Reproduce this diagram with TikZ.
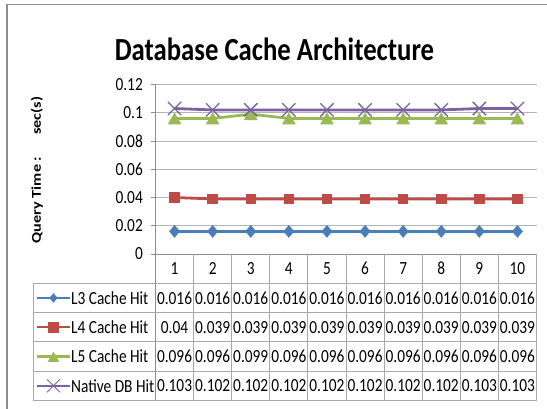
\documentclass[tikz,border=0pt]{standalone}
\usepackage{fontspec}
\setmainfont{Carlito}[FakeStretch=0.83]
\newfontfamily\plainfont{Carlito}
\usetikzlibrary{shapes.geometric,shapes.misc}
\definecolor{l3blue}{HTML}{4A7EBB}
\definecolor{l4red}{HTML}{BE4B48}
\definecolor{l5green}{HTML}{98B954}
\definecolor{nativepurple}{HTML}{7D60A0}
\definecolor{gridgray}{HTML}{B4B4B4}
\definecolor{cellgray}{HTML}{A8A8A8}
\definecolor{framegray}{HTML}{8C8C8C}
\tikzset{
	frame/.style={draw=framegray, line width=1.2pt},
	grid line/.style={draw=gridgray, line width=0.9pt},
	cell line/.style={draw=cellgray, line width=0.9pt},
	axis line/.style={draw=framegray, line width=0.9pt},
	series/.style={line width=2.8pt},
	key line/.style={line width=2.2pt},
	chart title/.style={inner sep=0pt, font=\fontsize{32.2}{36}\selectfont\bfseries},
	axis title/.style={inner sep=0pt, rotate=90, font=\plainfont\fontsize{16.2}{18}\selectfont\bfseries},
	cell text/.style={inner sep=0pt, font=\fontsize{18.5}{21}\selectfont},
	l3mark/.style={diamond, fill=l3blue, inner sep=0pt, minimum width=11pt, minimum height=13pt},
	l4mark/.style={rectangle, fill=l4red, inner sep=0pt, minimum size=10.5pt},
	l5mark/.style={regular polygon, regular polygon sides=3, fill=l5green, inner sep=0pt, minimum size=16pt, yshift=-2pt},
	nativemark/.style={cross out, draw=nativepurple, line width=1.3pt, inner sep=0pt, minimum size=12pt}
}
\begin{document}
\begin{tikzpicture}[x=1pt,y=-1pt]
	\useasboundingbox (0,0) rectangle (547,409);
	\draw[frame] (7,4.5) rectangle (560,420);
	\node[chart title] (title) at (274.5,49.5) {Database Cache Architecture};
	\node[axis title] (ytitle) at (37,170) {\scalebox{1}[0.83]{Query Time :\hspace{22pt}sec(s)}};
	\foreach \v/\lab [count=\k] in {0/0,0.02/0.02,0.04/0.04,0.06/0.06,0.08/0.08,0.1/0.1,0.12/0.12} {
		\ifnum\k>1
			\draw[grid line] (155.5,{254-1412.5*\v}) -- (536.5,{254-1412.5*\v});
		\fi
		\draw[axis line] (151,{254-1412.5*\v}) -- (155.5,{254-1412.5*\v});
		\node[cell text, anchor=east] (tick\k) at (143,{254-1412.5*\v}) {\lab};
	}
	\draw[axis line] (155.5,84.5) -- (155.5,400.5);
	\draw[axis line] (155.5,254) -- (536.5,254);
	\foreach \y in {283.3,312.6,341.9,371.2,400.5}
		\draw[cell line] (33,\y) -- (536.5,\y);
	\draw[cell line] (33,283.3) -- (33,400.5);
	\foreach \k in {1,...,10}
		\draw[cell line] ({155.5+38.1*\k},254) -- ({155.5+38.1*\k},400.5);
	\foreach \k in {1,...,10}
		\node[cell text] (head\k) at ({155.5+38.1*(\k-0.5)},268.7) {\k};
	% legend keys
	\draw[key line, l3blue] (37,297.95) -- (70,297.95);
	\node[l3mark, scale=0.75] (keya) at (53.5,297.95) {};
	\node[cell text, anchor=west] (namea) at (71,297.95) {L3 Cache Hit};
	\draw[key line, l4red] (37,327.25) -- (70,327.25);
	\node[l4mark] (keyb) at (53.5,327.25) {};
	\node[cell text, anchor=west] (nameb) at (71,327.25) {L4 Cache Hit};
	\draw[key line, l5green] (37,356.55) -- (70,356.55);
	\node[l5mark, scale=0.85] (keyc) at (53.5,356.55) {};
	\node[cell text, anchor=west] (namec) at (71,356.55) {L5 Cache Hit};
	\draw[key line, nativepurple] (37,385.85) -- (70,385.85);
	\node[nativemark, line width=0.9pt] (keyd) at (53.5,385.85) {};
	\node[cell text, anchor=west] (named) at (71,385.85) {Native DB Hit};
	% L3
	\foreach \v [count=\k] in {0.016,0.016,0.016,0.016,0.016,0.016,0.016,0.016,0.016,0.016} {
		\coordinate (a\k) at ({155.5+38.1*(\k-0.5)},{254-1412.5*\v});
		\node[cell text] (vala\k) at ({155.5+38.1*(\k-0.5)},297.95) {\v};
	}
	\draw[series, l3blue] (a1) \foreach \k in {2,...,10} {-- (a\k)};
	\foreach \k in {1,...,10}
		\node[l3mark] (marka\k) at (a\k) {};
	% L4
	\foreach \v/\lab [count=\k] in {0.04/0.04,0.039/0.039,0.039/0.039,0.039/0.039,0.039/0.039,0.039/0.039,0.039/0.039,0.039/0.039,0.039/0.039,0.039/0.039} {
		\coordinate (b\k) at ({155.5+38.1*(\k-0.5)},{254-1412.5*\v});
		\node[cell text] (valb\k) at ({155.5+38.1*(\k-0.5)},327.25) {\lab};
	}
	\draw[series, l4red] (b1) \foreach \k in {2,...,10} {-- (b\k)};
	\foreach \k in {1,...,10}
		\node[l4mark] (markb\k) at (b\k) {};
	% L5
	\foreach \v [count=\k] in {0.096,0.096,0.099,0.096,0.096,0.096,0.096,0.096,0.096,0.096} {
		\coordinate (c\k) at ({155.5+38.1*(\k-0.5)},{254-1412.5*\v});
		\node[cell text] (valc\k) at ({155.5+38.1*(\k-0.5)},356.55) {\v};
	}
	\draw[series, l5green] (c1) \foreach \k in {2,...,10} {-- (c\k)};
	\foreach \k in {1,...,10}
		\node[l5mark] (markc\k) at (c\k) {};
	% native
	\foreach \v [count=\k] in {0.103,0.102,0.102,0.102,0.102,0.102,0.102,0.102,0.103,0.103} {
		\coordinate (d\k) at ({155.5+38.1*(\k-0.5)},{254-1412.5*\v});
		\node[cell text] (vald\k) at ({155.5+38.1*(\k-0.5)},385.85) {\v};
	}
	\draw[series, nativepurple] (d1) \foreach \k in {2,...,10} {-- (d\k)};
	\foreach \k in {1,...,10}
		\node[nativemark] (markd\k) at (d\k) {};
\end{tikzpicture}
\end{document}
